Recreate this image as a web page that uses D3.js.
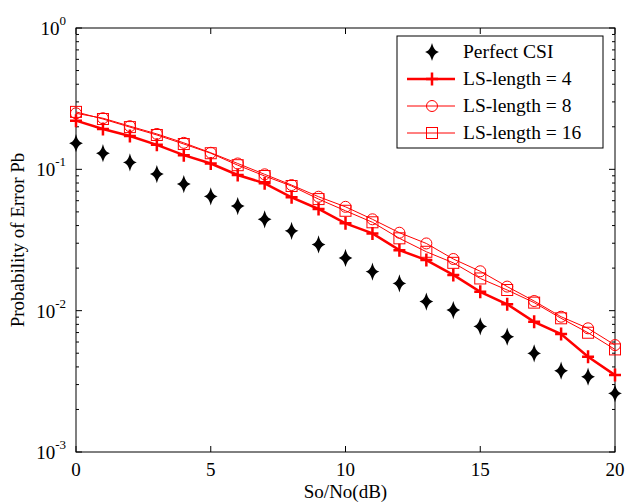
<!DOCTYPE html>
<html>
<head>
<meta charset="utf-8">
<script src="https://cdn.jsdelivr.net/npm/d3@7"></script>
<style>
  body { margin: 0; background: #fff; }
  svg { display: block; font-family: "Liberation Serif", "Times New Roman", serif; }
</style>
</head>
<body>
<div id="chart"></div>
<script>
const snr = [0, 1, 2, 3, 4, 5, 6, 7, 8, 9, 10, 11, 12, 13, 14, 15, 16, 17, 18, 19, 20];
const perfectCSI = [0.153, 0.130, 0.112, 0.0926, 0.0787, 0.0644, 0.0550, 0.0443, 0.0367, 0.0294, 0.0236,
  0.0189, 0.0156, 0.0116, 0.0101, 0.00774, 0.00654, 0.00499, 0.00376, 0.00341, 0.00260];
const ls4 = [0.221, 0.193, 0.172, 0.149, 0.126, 0.110, 0.0912, 0.0796, 0.0634, 0.0524, 0.0415,
  0.0352, 0.0268, 0.0228, 0.0179, 0.0136, 0.0111, 0.00834, 0.00683, 0.00472, 0.00350];
const ls8 = [0.249, 0.230, 0.202, 0.178, 0.154, 0.131, 0.110, 0.0922, 0.0774, 0.0640, 0.0543,
  0.0443, 0.0356, 0.0299, 0.0232, 0.0190, 0.0148, 0.0117, 0.00906, 0.00750, 0.00571];
const ls16 = [0.255, 0.227, 0.199, 0.175, 0.151, 0.130, 0.107, 0.0897, 0.0762, 0.0616, 0.0509,
  0.0422, 0.0325, 0.0261, 0.0218, 0.0169, 0.0140, 0.0114, 0.00883, 0.00698, 0.00532];
const seriesNames = ["Perfect CSI", "LS-length = 4", "LS-length = 8", "LS-length = 16"];
const xTicks = [0, 5, 10, 15, 20];
const yTicks = [1e-3, 1e-2, 1e-1, 1];
const yTickExp = ["-3", "-2", "-1", "0"];

const W = 626, H = 504;
const margin = { left: 76, top: 28, right: 11, bottom: 52 };
const width = W - margin.left - margin.right;
const height = H - margin.top - margin.bottom;

const svg = d3.select("#chart").append("svg").attr("width", W).attr("height", H);
const g = svg.append("g").attr("transform", `translate(${margin.left},${margin.top})`);

const x = d3.scaleLinear().domain([0, 20]).range([0, width]);
const y = d3.scaleLog().domain([1e-3, 1]).range([height, 0]);

// minor log ticks
const minor = [];
for (let e = -3; e < 0; e++) for (let m = 2; m <= 9; m++) minor.push(m * Math.pow(10, e));

const tickG = g.append("g").attr("stroke", "#000").attr("stroke-width", 1);
minor.forEach((v) => {
  tickG.append("line").attr("x1", 0).attr("x2", 3).attr("y1", y(v)).attr("y2", y(v));
  tickG.append("line").attr("x1", width).attr("x2", width - 3).attr("y1", y(v)).attr("y2", y(v));
});
yTicks.forEach((v) => {
  tickG.append("line").attr("x1", 0).attr("x2", 6).attr("y1", y(v)).attr("y2", y(v));
  tickG.append("line").attr("x1", width).attr("x2", width - 6).attr("y1", y(v)).attr("y2", y(v));
});
xTicks.forEach((v) => {
  tickG.append("line").attr("x1", x(v)).attr("x2", x(v)).attr("y1", height).attr("y2", height - 6);
  tickG.append("line").attr("x1", x(v)).attr("x2", x(v)).attr("y1", 0).attr("y2", 6);
});

// box
g.append("rect").attr("width", width).attr("height", height)
  .attr("fill", "none").attr("stroke", "#000").attr("stroke-width", 1);

// tick labels
xTicks.forEach((v) => {
  g.append("text").attr("x", x(v)).attr("y", height + 24)
    .attr("text-anchor", "middle").attr("font-size", 19).text(v);
});
yTicks.forEach((v, i) => {
  const t = g.append("text").attr("x", -10).attr("y", y(v) + 7)
    .attr("text-anchor", "end").attr("font-size", 19);
  t.append("tspan").text("10");
  t.append("tspan").attr("font-size", 13).attr("dy", -10).text(yTickExp[i]);
});

// axis labels
svg.append("text").attr("x", margin.left + width / 2).attr("y", H - 6)
  .attr("text-anchor", "middle").attr("font-size", 19).text("So/No(dB)");
svg.append("text").attr("transform", `translate(24,${margin.top + height / 2}) rotate(-90)`)
  .attr("text-anchor", "middle").attr("font-size", 19).text("Probability of Error Pb");

const line = d3.line().x((d) => x(d[0])).y((d) => y(d[1]));
const zip = (arr) => snr.map((s, i) => [s, arr[i]]);

// marker helpers
function diamond(sel, cx, cy) {
  sel.append("path")
    .attr("d", `M${cx},${cy - 6.5} Q${cx + 1.5},${cy - 1.5} ${cx + 5},${cy} Q${cx + 1.5},${cy + 1.5} ${cx},${cy + 6.5}` +
      ` Q${cx - 1.5},${cy + 1.5} ${cx - 5},${cy} Q${cx - 1.5},${cy - 1.5} ${cx},${cy - 6.5} Z`)
    .attr("fill", "#000").attr("stroke", "#000").attr("stroke-width", 1.5);
}
function plus(sel, cx, cy) {
  sel.append("path").attr("d", `M${cx - 6},${cy} H${cx + 6} M${cx},${cy - 6.5} V${cy + 6.5}`)
    .attr("stroke", "#ff0000").attr("stroke-width", 2.5).attr("fill", "none");
}
function circle(sel, cx, cy) {
  sel.append("circle").attr("cx", cx).attr("cy", cy).attr("r", 5.5)
    .attr("fill", "none").attr("stroke", "#ff0000").attr("stroke-width", 1);
}
function square(sel, cx, cy) {
  sel.append("rect").attr("x", cx - 5.5).attr("y", cy - 5.5).attr("width", 11).attr("height", 11)
    .attr("fill", "none").attr("stroke", "#ff0000").attr("stroke-width", 1);
}

const series = [
  { data: zip(ls16), width: 1, marker: square },
  { data: zip(ls8), width: 1, marker: circle },
  { data: zip(ls4), width: 2.5, marker: plus },
];
series.forEach((s) => {
  g.append("path").datum(s.data).attr("d", line)
    .attr("fill", "none").attr("stroke", "#ff0000").attr("stroke-width", s.width);
  const mg = g.append("g");
  s.data.forEach((d) => s.marker(mg, x(d[0]), y(d[1])));
});
const dg = g.append("g");
zip(perfectCSI).forEach((d) => diamond(dg, x(d[0]), y(d[1])));

// legend
const lg = svg.append("g").attr("transform", "translate(397,36)");
lg.append("rect").attr("width", 206).attr("height", 112)
  .attr("fill", "#fff").attr("stroke", "#000").attr("stroke-width", 1);
const legendItems = [
  { name: seriesNames[0], lw: 0, marker: diamond },
  { name: seriesNames[1], lw: 2.5, marker: plus },
  { name: seriesNames[2], lw: 1, marker: circle },
  { name: seriesNames[3], lw: 1, marker: square },
];
legendItems.forEach((it, i) => {
  const cy = 16 + i * 27;
  if (it.lw > 0) {
    lg.append("line").attr("x1", 10).attr("x2", 58).attr("y1", cy).attr("y2", cy)
      .attr("stroke", "#ff0000").attr("stroke-width", it.lw);
  }
  it.marker(lg, 35, cy);
  lg.append("text").attr("x", 66).attr("y", cy + 6).attr("font-size", 19.5).text(it.name);
});
</script>
</body>
</html>
